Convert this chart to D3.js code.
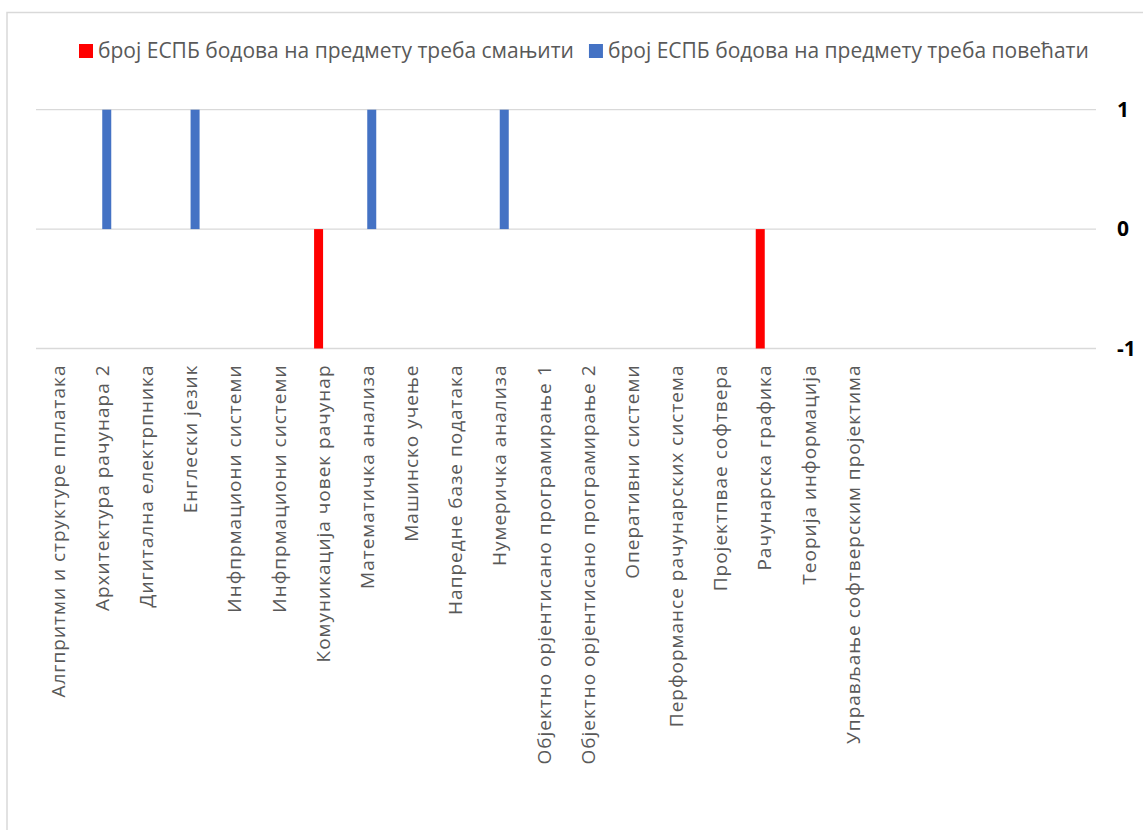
<!DOCTYPE html>
<html>
<head>
<meta charset="utf-8">
<script src="https://cdn.jsdelivr.net/npm/d3@7"></script>
<style>
  html, body { margin: 0; padding: 0; background: #fff; }
  svg { display: block; }
</style>
</head>
<body>
<svg id="chart" width="1143" height="830"></svg>
<script>
// ---- data ----
const categories = [
  "Алгпритми и структуре пплатака",
  "Архитектура рачунара 2",
  "Дигитална електрпника",
  "Енглески језик",
  "Инфпрмациони системи",
  "Инфпрмациони системи",
  "Комуникација човек рачунар",
  "Математичка анализа",
  "Машинско учење",
  "Напредне базе података",
  "Нумеричка анализа",
  "Објектно орјентисано програмирање 1",
  "Објектно орјентисано програмирање 2",
  "Оперативни системи",
  "Перформансе рачунарских система",
  "Пројектпвае софтвера",
  "Рачунарска графика",
  "Теорија информација",
  "Управљање софтверским пројектима",
  "", "", "", "", ""
];
const seriesNames = [
  "број ЕСПБ бодова на предмету треба смањити",
  "број ЕСПБ бодова на предмету треба повећати"
];
const decreaseValues = [0,0,0,0,0,0,-1,0,0,0,0,0,0,0,0,0,-1,0,0,0,0,0,0,0];
const increaseValues = [0,1,0,1,0,0,0,1,0,0,1,0,0,0,0,0,0,0,0,0,0,0,0,0];
const yTicks = [-1, 0, 1];
const yTickLabels = ["-1", "0", "1"];
const colors = ["#FF0000", "#4472C4"];

// ---- layout ----
const svg = d3.select("#chart");
const W = 1143, H = 830;
const plot = { left: 36, right: 1096, top: 109.7, bottom: 348.5 };

svg.append("rect").attr("width", W).attr("height", H).attr("fill", "#fff");
// chart area border (top & left visible)
svg.append("path")
  .attr("d", `M7,${H + 5} V12.5 H${W + 5}`)
  .attr("fill", "none").attr("stroke", "#d9d9d9").attr("stroke-width", 1.5);

const idx = d3.range(categories.length);
const x = d3.scaleBand().domain(idx).range([plot.left, plot.right]).padding(0);
const bw = x.bandwidth();
const barW = 9;
const x1 = d3.scaleBand().domain([0, 1]).range([bw / 2 - barW, bw / 2 + barW]);
const y = d3.scaleLinear().domain([-1, 1]).range([plot.bottom, plot.top]);

// gridlines
svg.append("g").selectAll("line").data(yTicks).join("line")
  .attr("x1", plot.left).attr("x2", plot.right)
  .attr("y1", d => y(d)).attr("y2", d => y(d))
  .attr("stroke", "#d9d9d9").attr("stroke-width", 1.3);

// bars
const series = [decreaseValues, increaseValues];
series.forEach((vals, s) => {
  svg.append("g").selectAll("rect")
    .data(idx.filter(i => vals[i] !== 0))
    .join("rect")
    .attr("x", i => x(i) + x1(s))
    .attr("width", x1.bandwidth())
    .attr("y", i => Math.min(y(vals[i]), y(0)))
    .attr("height", i => Math.abs(y(vals[i]) - y(0)))
    .attr("fill", colors[s]);
});

// right y axis labels
const yAxis = d3.axisRight(y).tickValues(yTicks).tickSize(0).tickPadding(0)
  .tickFormat(d => yTickLabels[yTicks.indexOf(d)]);
const gy = svg.append("g").attr("transform", `translate(1117,0)`).call(yAxis);
gy.select(".domain").remove();
gy.selectAll("text")
  .attr("font-family", "'Open Sans', sans-serif")
  .attr("font-size", 21).attr("font-weight", "bold")
  .attr("fill", "#000").attr("text-anchor", "start");

// x axis labels (rotated)
const xAxis = d3.axisBottom(x).tickSize(0).tickPadding(0).tickFormat(i => categories[i]);
const gx = svg.append("g").attr("transform", `translate(0,${plot.bottom})`).call(xAxis);
gx.select(".domain").remove();
gx.selectAll(".tick text")
  .attr("font-family", "'Open Sans', sans-serif")
  .attr("font-size", 19)
  .attr("letter-spacing", "1px")
  .attr("fill", "#595959")
  .attr("text-anchor", "end")
  .attr("transform", "rotate(-90)")
  .attr("x", -16).attr("y", 0).attr("dy", "0.35em");

// legend
const lg = svg.append("g");
let lx = 79;
seriesNames.forEach((name, s) => {
  lg.append("rect").attr("x", lx).attr("y", 44).attr("width", 14).attr("height", 14).attr("fill", colors[s]);
  const t = lg.append("text")
    .attr("x", lx + 19).attr("y", 51).attr("dy", "0.35em")
    .attr("font-family", "'Open Sans', sans-serif").attr("font-size", 21)
    .attr("fill", "#595959").text(name);
  lx += 19 + t.node().getComputedTextLength() + 15;
});
</script>
</body>
</html>
